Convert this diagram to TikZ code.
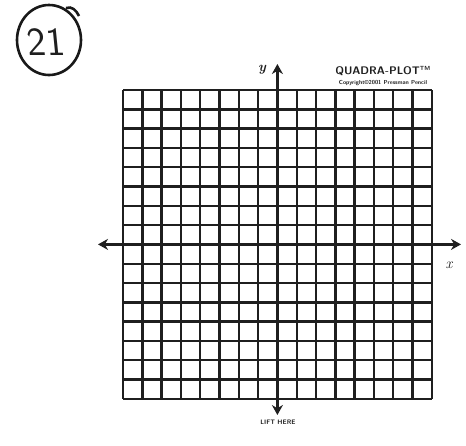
\documentclass[tikz,border=0pt]{standalone}
\usetikzlibrary{arrows.meta}
\begin{document}
\begin{tikzpicture}[x=1pt,y=-1pt,
  gridline/.style={line width=2.4pt, black!88},
  axisline/.style={line width=3.2pt, black!88, {Stealth[length=10pt,width=11pt]}-{Stealth[length=10pt,width=11pt]}},
  lbl/.style={inner sep=0pt, black!88}]
\useasboundingbox (0,0) rectangle (466,445);
% grid
\foreach \i in {0,...,16} {
  \draw[gridline] ({123+\i*19.3},90) -- ({123+\i*19.3},399);
  \draw[gridline] (123,{90+\i*19.3}) -- (431.8,{90+\i*19.3});
}
% axes
\coordinate (ytop) at (277.4,64);
\coordinate (ybot) at (277.4,415);
\coordinate (xl) at (98,244.4);
\coordinate (xr) at (461,244.4);
\draw[axisline] (ybot) -- (ytop);
\draw[axisline] (xl) -- (xr);
% labels
\node[lbl] (ylab) at (262,70) {\fontsize{14}{14}\selectfont\bfseries\itshape y};
\node[lbl] (xlab) at (449,265) {\fontsize{15}{15}\selectfont\itshape x};
\node[lbl] (brand) at (383,71) {\fontsize{11}{11}\selectfont\bfseries\sffamily QUADRA-PLOT\textsuperscript{\fontsize{6}{6}\selectfont TM}};
\node[lbl] (copy) at (383,83) {\fontsize{5.8}{5.8}\selectfont\bfseries\sffamily Copyright\copyright2001 Pressman Pencil};
\node[lbl] (lift) at (278,422) {\fontsize{6.5}{6.5}\selectfont\bfseries\sffamily LIFT HERE};
% circled 21
\draw[line width=2.6pt, black!90] (49,40) ellipse (32 and 35);
\draw[line width=2.6pt, black!90] (66,8) .. controls (72,6) and (76,10) .. (79,16);
\node[lbl, xslant=-0.1] (num) at (46,42) {\fontsize{40}{40}\selectfont\sffamily 21};
\end{tikzpicture}
\end{document}
